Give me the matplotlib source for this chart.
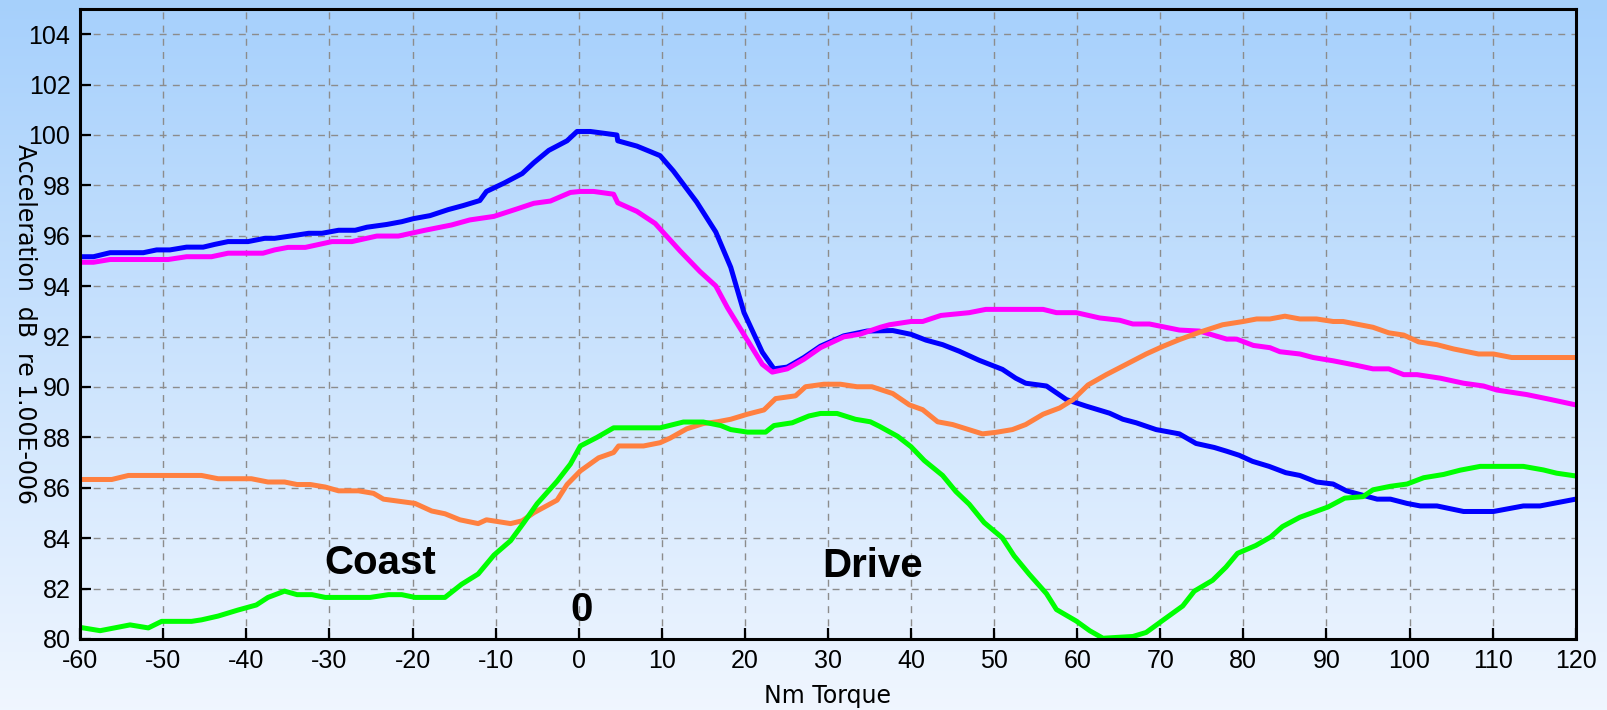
import numpy as np
import matplotlib
matplotlib.use("Agg")
import matplotlib.pyplot as plt
from matplotlib.colors import LinearSegmentedColormap

# ---------------- data ----------------
blue_x = [-60, -58.4, -56.4, -52.4, -50.8, -49.2, -47.2, -45.2, -43.8, -42.2, -39.8, -37.8, -36.6, -34.5,
          -32.5, -30.9, -28.9, -26.9, -25.5, -23.1, -21.3, -19.9, -17.9, -15.7, -13.9, -11.9, -11.1, -9.0,
          -6.8, -5.4, -3.6, -1.4, -0.2, 1.4, 4.6, 4.7, 7.0, 9.8, 11.4, 14.2, 16.5, 18.3, 19.9, 22.1, 23.5,
          25.1, 27.1, 29.1, 31.9, 34.7, 37.8, 40, 41.8, 43.8, 45.8, 48.2, 51.0, 52.6, 53.8, 56.3, 58.7,
          61.1, 63.9, 65.5, 67.1, 69.5, 72.3, 74.3, 76.5, 78.0, 79.5, 81.1, 83.1, 85.1, 86.8, 88.8, 90.8,
          92.4, 96.1, 97.7, 99.7, 101.3, 103.3, 106.5, 110.1, 113.7, 115.7, 120]
blue_y = [95.17, 95.17, 95.33, 95.33, 95.44, 95.44, 95.55, 95.55, 95.66, 95.77, 95.77, 95.9, 95.9, 96.0,
          96.1, 96.1, 96.22, 96.22, 96.34, 96.45, 96.56, 96.68, 96.8, 97.04, 97.2, 97.4, 97.76, 98.09,
          98.47, 98.9, 99.39, 99.77, 100.14, 100.14, 100.0, 99.77, 99.56, 99.18, 98.57, 97.34, 96.15,
          94.75, 92.95, 91.38, 90.72, 90.79, 91.17, 91.62, 92.03, 92.22, 92.24, 92.09, 91.86, 91.68,
          91.42, 91.06, 90.7, 90.35, 90.15, 90.04, 89.5, 89.24, 88.96, 88.72, 88.58, 88.31, 88.14,
          87.76, 87.6, 87.45, 87.29, 87.05, 86.85, 86.6, 86.49, 86.23, 86.15, 85.88, 85.55, 85.55,
          85.38, 85.28, 85.28, 85.06, 85.06, 85.28, 85.28, 85.55]

magenta_x = [-60, -58.4, -56.4, -49.4, -47.2, -44.2, -42.2, -38.0, -36.6, -35.0, -32.9, -29.7, -27.3,
             -24.3, -21.7, -18.5, -15.3, -13.1, -10.2, -7.4, -5.4, -3.4, -1.0, 0.2, 1.8, 4.2, 4.7, 7.0,
             9.2, 12.2, 14.6, 16.5, 17.9, 20.3, 22.1, 23.3, 25.1, 27.1, 29.1, 31.9, 33.9, 36.3, 37.4, 40,
             41.4, 43.6, 47.0, 49.0, 55.9, 57.5, 59.9, 62.7, 65.1, 66.7, 68.7, 72.3, 74.7, 78.0, 79.2,
             81.2, 83.2, 84.4, 86.8, 88.4, 90.8, 93.6, 95.6, 97.5, 99.3, 100.9, 103.7, 106.5, 108.9,
             110.5, 114.1, 116.9, 120]
magenta_y = [94.95, 94.95, 95.06, 95.06, 95.17, 95.17, 95.31, 95.31, 95.44, 95.54, 95.54, 95.77, 95.77,
             95.99, 95.99, 96.22, 96.43, 96.63, 96.77, 97.07, 97.29, 97.38, 97.72, 97.76, 97.76, 97.65,
             97.31, 96.97, 96.49, 95.4, 94.58, 94.01, 93.15, 91.86, 90.9, 90.59, 90.72, 91.1, 91.56,
             91.99, 92.1, 92.37, 92.47, 92.6, 92.6, 92.84, 92.95, 93.08, 93.08, 92.95, 92.95, 92.74,
             92.65, 92.5, 92.5, 92.26, 92.22, 91.9, 91.9, 91.65, 91.56, 91.4, 91.31, 91.17, 91.04,
             90.86, 90.72, 90.72, 90.49, 90.49, 90.35, 90.15, 90.04, 89.88, 89.7, 89.51, 89.29]

orange_x = [-60, -56.2, -54.2, -45.4, -43.4, -39.4, -37.4, -35.4, -33.9, -32.3, -30.5, -28.9, -26.5,
            -24.7, -23.5, -19.7, -17.7, -16.1, -14.3, -12.1, -11.1, -8.2, -6.8, -5.4, -2.6, -1.4, 0.2,
            2.4, 4.2, 4.8, 7.8, 9.8, 11.0, 13.0, 15.0, 16.7, 18.3, 20.3, 22.3, 23.7, 26.1, 27.3, 29.5,
            31.5, 33.5, 35.3, 37.8, 39.8, 41.4, 43.2, 45.0, 48.6, 50.2, 52.2, 53.8, 55.9, 57.9, 59.5,
            61.3, 63.5, 65.9, 68.3, 70.3, 72.3, 74.7, 77.5, 80, 81.6, 83.2, 85.0, 86.8, 88.8, 90.8, 92.0,
            95.6, 97.5, 99.3, 101.1, 103.3, 105.3, 108.3, 110.1, 112.3, 120]
orange_y = [86.33, 86.33, 86.49, 86.49, 86.36, 86.36, 86.23, 86.23, 86.13, 86.13, 86.03, 85.88, 85.88,
            85.78, 85.55, 85.38, 85.08, 84.97, 84.73, 84.58, 84.73, 84.58, 84.69, 85.01, 85.51, 86.13,
            86.67, 87.19, 87.4, 87.66, 87.66, 87.79, 87.97, 88.34, 88.55, 88.62, 88.72, 88.92, 89.09,
            89.54, 89.65, 90.01, 90.11, 90.11, 90.01, 90.01, 89.74, 89.29, 89.1, 88.62, 88.51, 88.14,
            88.2, 88.31, 88.51, 88.92, 89.17, 89.5, 90.08, 90.49, 90.9, 91.31, 91.61, 91.88, 92.17,
            92.47, 92.6, 92.7, 92.7, 92.81, 92.7, 92.7, 92.6, 92.6, 92.37, 92.15, 92.06, 91.79, 91.68,
            91.51, 91.31, 91.31, 91.17, 91.17]

green_x = [-60, -57.6, -54.0, -51.8, -50.2, -46.6, -45.4, -43.4, -41.0, -38.8, -37.4, -35.4, -33.9,
           -32.1, -30.5, -25.1, -22.9, -21.3, -19.7, -16.1, -14.1, -12.1, -10.2, -8.2, -6.6, -5.0, -2.6,
           -1.0, 0.2, 2.2, 4.2, 9.8, 12.6, 15.0, 17.1, 18.3, 20.3, 22.5, 23.5, 25.7, 27.7, 29.1, 31.1,
           33.3, 35.1, 36.2, 38.4, 40, 41.6, 43.8, 45.4, 47.0, 48.8, 51.0, 52.4, 54.2, 56.3, 57.5, 59.9,
           61.5, 63.1, 66.7, 68.3, 70.3, 72.7, 74.1, 76.3, 77.9, 79.3, 81.5, 83.3, 84.7, 86.8, 90.2,
           92.2, 94.4, 95.6, 97.7, 99.7, 101.7, 104.1, 106.1, 108.5, 113.7, 116.1, 117.7, 120]
green_y = [80.46, 80.33, 80.56, 80.44, 80.7, 80.7, 80.76, 80.91, 81.15, 81.35, 81.65, 81.9, 81.76,
           81.76, 81.65, 81.65, 81.76, 81.76, 81.65, 81.65, 82.17, 82.58, 83.33, 83.9, 84.62, 85.37,
           86.26, 86.94, 87.66, 88.0, 88.38, 88.38, 88.61, 88.61, 88.47, 88.31, 88.21, 88.21, 88.47,
           88.58, 88.85, 88.95, 88.95, 88.72, 88.62, 88.44, 88.04, 87.63, 87.08, 86.49, 85.85, 85.35,
           84.62, 84.01, 83.3, 82.58, 81.8, 81.17, 80.71, 80.33, 80.03, 80.1, 80.26, 80.74, 81.31,
           81.9, 82.33, 82.85, 83.4, 83.71, 84.05, 84.46, 84.83, 85.24, 85.59, 85.65, 85.92, 86.06,
           86.15, 86.4, 86.53, 86.7, 86.85, 86.85, 86.71, 86.58, 86.47]

x_ticks = list(range(-60, 121, 10))
y_ticks = list(range(80, 105, 2))

annotations = [("Coast", -23.9, 82.59), ("Drive", 35.4, 82.46), ("0", 0.4, 80.71)]

series = [
    (blue_x, blue_y, "#0000FF"),
    (magenta_x, magenta_y, "#FF00FF"),
    (orange_x, orange_y, "#FF8040"),
    (green_x, green_y, "#00FF00"),
]
for sx, sy, _ in series:
    assert len(sx) == len(sy), (len(sx), len(sy))

# ---------------- figure ----------------
plt.rcParams['font.family'] = ['Liberation Sans', 'DejaVu Sans']
plt.rcParams['axes.unicode_minus'] = False

W, H, DPI = 1608, 710, 100
fig = plt.figure(figsize=(W / DPI, H / DPI), dpi=DPI)

# background gradient
bg = fig.add_axes([0, 0, 1, 1], zorder=-10)
cmap = LinearSegmentedColormap.from_list("bg", [(0.651, 0.816, 0.988), (0.941, 0.965, 1.0)])
grad = np.linspace(0, 1, 256).reshape(-1, 1)
bg.imshow(grad, aspect="auto", cmap=cmap, extent=[0, 1, 0, 1], origin="upper")
bg.axis("off")

left, right = 80.2 / W, 1575.7 / W
top, bottom = 1 - 9 / H, 1 - 639 / H
ax = fig.add_axes([left, bottom, right - left, top - bottom])
ax.set_facecolor("none")

for sx, sy, c in series:
    ax.plot(sx, sy, color=c, lw=3.6, solid_joinstyle="round", solid_capstyle="butt", zorder=3)

ax.set_xlim(-60, 120)
ax.set_ylim(80, 105)
ax.set_xticks(x_ticks)
ax.set_yticks(y_ticks)
ax.tick_params(direction="in", length=8, width=1.6, labelsize=18, pad=7, colors="black")
ax.grid(True, color="#8c8c8c", lw=1.0, linestyle=(0, (5, 4.5)), zorder=1)
ax.set_axisbelow(True)
for s in ax.spines.values():
    s.set_linewidth(2.2)
    s.set_color("black")
    s.set_zorder(5)

for txt, tx, ty in annotations:
    ax.text(tx, ty, txt, fontsize=29, fontweight="bold", ha="center", va="baseline", zorder=4)

fig.text(828 / W, 1 - 703 / H, "Nm Torque", fontsize=17, ha="center", va="baseline",
         family="DejaVu Sans")
fig.text(25 / W, 1 - 324.5 / H, "Acceleration  dB  re 1.00E-006", fontsize=17,
         rotation=270, ha="center", va="center", family="DejaVu Sans")

fig.savefig("out.png", dpi=DPI)
